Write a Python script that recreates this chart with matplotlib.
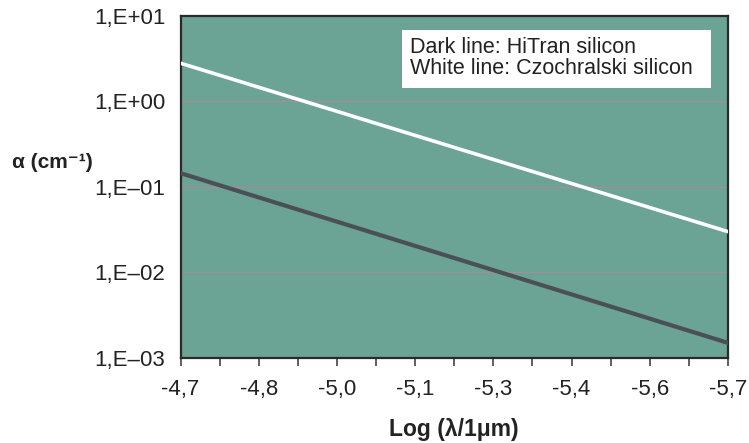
import math
import matplotlib
matplotlib.use("Agg")
import matplotlib.pyplot as plt
from matplotlib.patches import Rectangle
from matplotlib.ticker import FixedLocator, FuncFormatter

# data
log_lambda = [-4.7, -5.7]
czochralski = [2.8, 0.03]     # white line
hitran = [0.145, 0.0015]      # dark line

x_ticks = [-4.7 - i / 7 for i in range(8)]
x_minor = [-4.7 - i / 14 for i in range(15)]
y_ticks = [1e-3, 1e-2, 1e-1, 1e0, 1e1]
grid_at = [1e-2, 1e-1, 1e0]

legend_lines = ["Dark line: HiTran silicon", "White line: Czochralski silicon"]

bg = "#6ba394"
narrow = ["Liberation Sans Narrow", "Liberation Sans", "DejaVu Sans"]
plain = ["Liberation Sans", "DejaVu Sans"]

fig = plt.figure(figsize=(7.49, 4.43), dpi=100)
ax = fig.add_axes([0.241, 0.192, 0.731, 0.772])
ax.set_facecolor(bg)

for y in grid_at:
    ax.axhline(y, color="#a08f98", lw=1, zorder=1)

ax.plot(log_lambda, czochralski, color="white", lw=2.6, zorder=3)
ax.plot(log_lambda, hitran, color="#4b5056", lw=3.0, zorder=3)

ax.set_yscale("log")
ax.set_ylim(1e-3, 1e1)
ax.set_xlim(-4.7, -5.7)

ax.xaxis.set_major_locator(FixedLocator(x_ticks))
ax.xaxis.set_minor_locator(FixedLocator(x_minor))
ax.xaxis.set_major_formatter(FuncFormatter(lambda v, p: ("%.1f" % v).replace(".", ",")))
ax.yaxis.set_major_locator(FixedLocator(y_ticks))
ax.yaxis.set_minor_locator(FixedLocator([]))


def yfmt(v, p):
    e = int(round(math.log10(v)))
    sign = "+" if e >= 0 else "\u2013"
    return "1,E%s%02d" % (sign, abs(e))


ax.yaxis.set_major_formatter(FuncFormatter(yfmt))

ax.tick_params(axis="x", which="both", direction="out", length=6, width=1.2,
               color="#444444", labelcolor="#222222", pad=9,
               labelsize=16, labelfontfamily=narrow)
ax.tick_params(axis="y", which="both", length=0, labelcolor="#222222", pad=11,
               labelsize=16, labelfontfamily=narrow)

for s in ax.spines.values():
    s.set_color("#2a2a2a")
    s.set_linewidth(1.6)

ax.set_xlabel("Log (\u03bb/1\u03bcm)", fontsize=16.5, fontweight="bold",
              family=narrow, color="#222222", labelpad=13)
fig.text(0.016, 0.634, "\u03b1 (cm\u207b\u00b9)", fontsize=15, fontweight="bold",
         family=narrow, color="#222222", ha="left", va="center")

# white legend box with two lines of text
ax.add_patch(Rectangle((0.405, 0.789), 0.564, 0.170, transform=ax.transAxes,
                       fc="white", ec="none", zorder=5))
for i, line in enumerate(legend_lines):
    ax.text(0.420, 0.892 - i * 0.062, line, transform=ax.transAxes,
            fontsize=15.5, family=plain, color="#222222", va="baseline",
            ha="left", zorder=6)

fig.savefig("out.png", dpi=100)
